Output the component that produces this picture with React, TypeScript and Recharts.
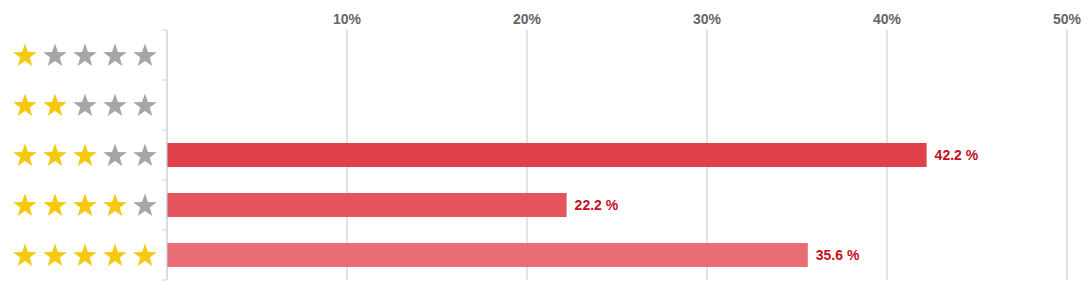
import { BarChart, Bar, XAxis, YAxis, CartesianGrid, Cell, LabelList } from 'recharts';

// ratings (number of filled stars) and share of reviews in %
const ratings = [1, 2, 3, 4, 5];
const shares = [0, 0, 42.2, 22.2, 35.6];
const barColors = ['#e0404a', '#e0404a', '#e0404a', '#e45560', '#e86d74'];
const xTicks = [10, 20, 30, 40, 50];

const data = ratings.map((r, i) => ({ rating: r, share: shares[i] }));

const CHART_W = 1088;
const CHART_H = 295;
const MARGIN = { top: 0, right: 21, bottom: 15, left: 0 };
const X_AXIS_H = 30;
const BAND = (CHART_H - MARGIN.top - MARGIN.bottom - X_AXIS_H) / ratings.length;

function starPoints(cx: number, cy: number, outer: number, inner: number) {
  const pts: string[] = [];
  for (let k = 0; k < 10; k++) {
    const r = k % 2 === 0 ? outer : inner;
    const a = -Math.PI / 2 + (k * Math.PI) / 5;
    pts.push(`${(cx + r * Math.cos(a)).toFixed(2)},${(cy + r * Math.sin(a)).toFixed(2)}`);
  }
  return pts.join(' ');
}

function StarTick(props: any) {
  const { x, y, payload, index } = props;
  const filled = Number(payload.value);
  return (
    <g>
      {[0, 1, 2, 3, 4].map((s) => (
        <polygon
          key={s}
          points={starPoints(x - 142 + s * 30, y + 1, 12.4, 5)}
          fill={s < filled ? '#f6c90e' : '#a6a6a6'}
        />
      ))}
      <line x1={x - 5} x2={x} y1={y - BAND / 2} y2={y - BAND / 2} stroke="#ccd6eb" />
      {index === ratings.length - 1 && (
        <line x1={x - 5} x2={x} y1={y + BAND / 2} y2={y + BAND / 2} stroke="#ccd6eb" />
      )}
    </g>
  );
}

export default function App() {
  return (
    <div style={{ position: 'absolute', left: 0, top: 0 }}>
      <BarChart
        width={CHART_W}
        height={CHART_H}
        data={data}
        layout="vertical"
        margin={MARGIN}
        style={{ fontFamily: '"Liberation Sans", Arial, sans-serif' }}
      >
        <CartesianGrid horizontal={false} vertical stroke="#c6c6c6" />
        <XAxis
          type="number"
          orientation="top"
          domain={[0, 50]}
          ticks={xTicks}
          height={X_AXIS_H}
          axisLine={false}
          tickLine={false}
          tickSize={0}
          tickMargin={6}
          tickFormatter={(v) => `${v}%`}
          tick={{ fill: '#666666', fontSize: 14, fontWeight: 'bold' }}
        />
        <YAxis
          type="category"
          dataKey="rating"
          width={167}
          axisLine={{ stroke: '#ccd6eb' }}
          tickLine={false}
          tickSize={0}
          tickMargin={0}
          tick={<StarTick />}
          interval={0}
        />
        <Bar dataKey="share" barSize={24} isAnimationActive={false}>
          {data.map((d, i) => (
            <Cell key={d.rating} fill={barColors[i]} />
          ))}
          <LabelList
            dataKey="share"
            position="right"
            offset={8}
            formatter={(v: any) => (Number(v) > 0 ? `${v} %` : '')}
            style={{ fill: '#c3101c', fontSize: 14, fontWeight: 'bold' }}
          />
        </Bar>
      </BarChart>
    </div>
  );
}
